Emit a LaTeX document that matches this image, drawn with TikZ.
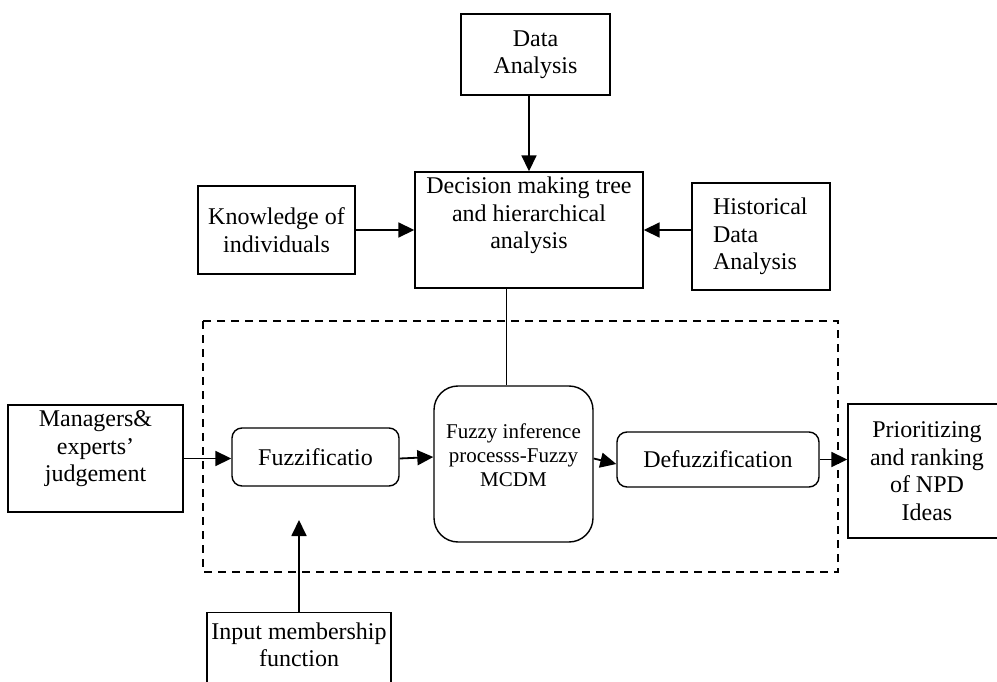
\documentclass[tikz,border=0pt]{standalone}
\usepackage{fontspec}
\setmainfont{Liberation Serif}
\usetikzlibrary{arrows.meta, positioning}
\tikzset{
    blk/.style={draw, line width=1.4pt, rectangle, inner sep=0pt, align=center,
        font=\fontsize{24}{27.5}\selectfont},
    rblk/.style={blk, rounded corners=#1},
    rblk/.default={10pt},
    conn/.style={line width=1.8pt, -{Triangle[length=16pt,width=15pt]}},
    bare/.style={line width=1.4pt},
    frame/.style={line width=1.6pt, dash pattern=on 8pt off 6pt}
}
\newcommand{\topbox}[3]{\parbox[c][#2][t]{#1}{\centering #3}}

\begin{document}
\begin{tikzpicture}[x=1pt, y=-1pt]
    \useasboundingbox (0,0) rectangle (997,682);
    \clip (0,0) rectangle (997,682);
    \draw[frame] (203,321) rectangle (838,572);
    % upper part
    \node[blk, minimum width=149pt, minimum height=81pt] (data) at (535.5,54.5) {Data\\Analysis};
    \node[blk, minimum width=228pt, minimum height=116pt] (dec) at (529,230)
        {\topbox{228pt}{116pt}{\vspace{5pt}Decision making tree\\and hierarchical\\analysis}};
    \node[blk, minimum width=157pt, minimum height=88pt] (know) at (276.5,230) {Knowledge of\\individuals};
    \node[blk, text width=96pt, align=left, inner xsep=21pt, minimum height=107pt] (hist) at (761,236.5)
        {Historical\\Data\\Analysis};
    % fuzzy row
    \node[blk, minimum width=175pt, minimum height=107pt] (mgr) at (95.5,458.5)
        {\topbox{175pt}{107pt}{\vspace{6pt}Managers\&\\experts'\\judgement}};
    \node[rblk, minimum width=167pt, minimum height=58pt] (fuzz) at (315.5,457) {Fuzzificatio};
    \node[rblk=24pt, minimum width=159pt, minimum height=156pt, font=\fontsize{21}{24}\selectfont] (inf) at (513.5,464)
        {\topbox{159pt}{156pt}{\vspace{38pt}Fuzzy inference\\processs-Fuzzy\\MCDM}};
    \node[rblk, minimum width=202pt, minimum height=55pt] (defz) at (718,459.5) {Defuzzification};
    \node[blk, minimum width=158pt, minimum height=134pt] (prio) at (927,471) {Prioritizing\\and ranking\\of NPD\\Ideas};
    \node[blk, minimum width=184pt, minimum height=100pt, anchor=north] (inp) at (299,612)
        {\topbox{184pt}{100pt}{\vspace{10pt}Input membership\\function}};
    \coordinate (inptip) at (299,520);
    % connectors
    \draw[conn] (data.south -| dec.north) -- (dec.north);
    \draw[conn] (know.east |- dec.west) -- (dec.west);
    \draw[conn] (hist.west |- dec.east) -- (dec.east);
    \draw[bare] ([xshift=-7pt]inf.north |- dec.south) -- ([xshift=-7pt]inf.north);
    \draw[conn] (mgr.east) -- (mgr.east -| fuzz.west);
    \draw[conn] (fuzz.east |- mgr.east) -- (fuzz.east -| inf.west);
    \draw[conn] (inf.east |- mgr.east) -- (inf.east -| defz.west);
    \draw[conn] (defz.east) -- (defz.east -| prio.west);
    \draw[conn] (inp.north) -- (inptip);
\end{tikzpicture}
\end{document}
